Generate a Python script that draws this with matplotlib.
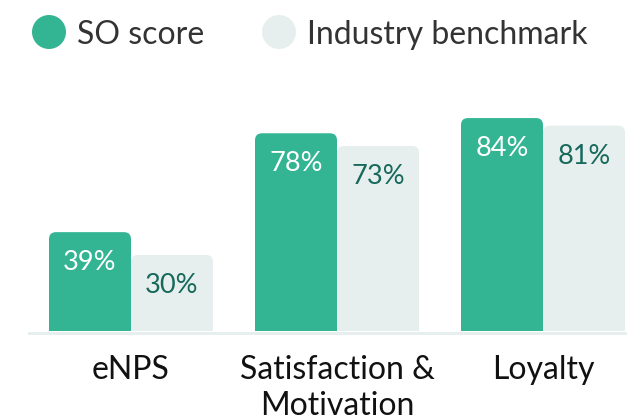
import matplotlib
matplotlib.use("Agg")
import matplotlib.pyplot as plt
import numpy as np
from matplotlib.patches import FancyBboxPatch, Circle
from matplotlib.transforms import IdentityTransform

categories = ["eNPS", "Satisfaction &\nMotivation", "Loyalty"]
series_names = ["SO score", "Industry benchmark"]
so_score = [39, 78, 84]
benchmark = [30, 73, 81]

GREEN = "#33b594"
LIGHT = "#e6efee"
TEAL = "#17695c"

plt.rcParams["font.family"] = ["Lato", "DejaVu Sans"]

W, H, DPI = 627, 420, 100
fig = plt.figure(figsize=(W / DPI, H / DPI), dpi=DPI)

PX_X = 206.0     # px per category
PX_Y = 2.535     # px per percent
base_px = 331
left_px = 29
x0_px = 131
ymax = 100
ax = fig.add_axes([left_px / W, (H - base_px) / H, 1 - left_px / W,
                   ymax * PX_Y / H])
ax.set_xlim((left_px - x0_px) / PX_X, (W - x0_px) / PX_X)
ax.set_ylim(0, ymax)
for s in ax.spines.values():
    s.set_visible(False)
ax.set_yticks([])

x = np.arange(len(categories))
w = 82 / PX_X
bars1 = ax.bar(x - w / 2, so_score, w, color=GREEN)
bars2 = ax.bar(x + w / 2, benchmark, w, color=LIGHT)

r = 7 / PX_X
asp = PX_X / PX_Y
extra = 10
for bars in (bars1, bars2):
    for rect in bars:
        bx, by = rect.get_x(), rect.get_y()
        bw, bh = rect.get_width(), rect.get_height()
        fc = rect.get_facecolor()
        rect.set_visible(False)
        p = FancyBboxPatch((bx, by - extra), bw, bh + extra,
                           boxstyle=f"round,pad=0,rounding_size={r}",
                           mutation_aspect=asp, facecolor=fc,
                           edgecolor="none", zorder=2)
        ax.add_patch(p)

ax.axhline(-1.5 / PX_Y, color=LIGHT, lw=3 * 0.72, clip_on=False, zorder=1)

for xi, v in zip(x - w / 2, so_score):
    ax.annotate(f"{v}%", xy=(xi, v), xytext=(0, -18 * 0.72),
                textcoords="offset points", ha="center", va="top",
                fontsize=19.5, color="white", zorder=3)
for xi, v in zip(x + w / 2, benchmark):
    ax.annotate(f"{v}%", xy=(xi, v), xytext=(0, -18 * 0.72),
                textcoords="offset points", ha="center", va="top",
                fontsize=19.5, color=TEAL, zorder=3)

ax.set_xticks(x)
ax.set_xticklabels(categories, fontsize=23, color="#111111")
ax.tick_params(axis="x", length=0, pad=17)
for lab in ax.get_xticklabels():
    lab.set_linespacing(1.25)

# legend
leg_cx = [49, 279]
leg_tx = [77, 307]
for name, col, cx, tx in zip(series_names, [GREEN, LIGHT], leg_cx, leg_tx):
    c = Circle((cx, H - 32), 17, transform=IdentityTransform(),
               facecolor=col, edgecolor="none")
    fig.add_artist(c)
    fig.text(tx, H - 44, name, transform=IdentityTransform(),
             fontsize=23, color="#333333", ha="left", va="baseline")

fig.savefig("out.png", dpi=DPI)
